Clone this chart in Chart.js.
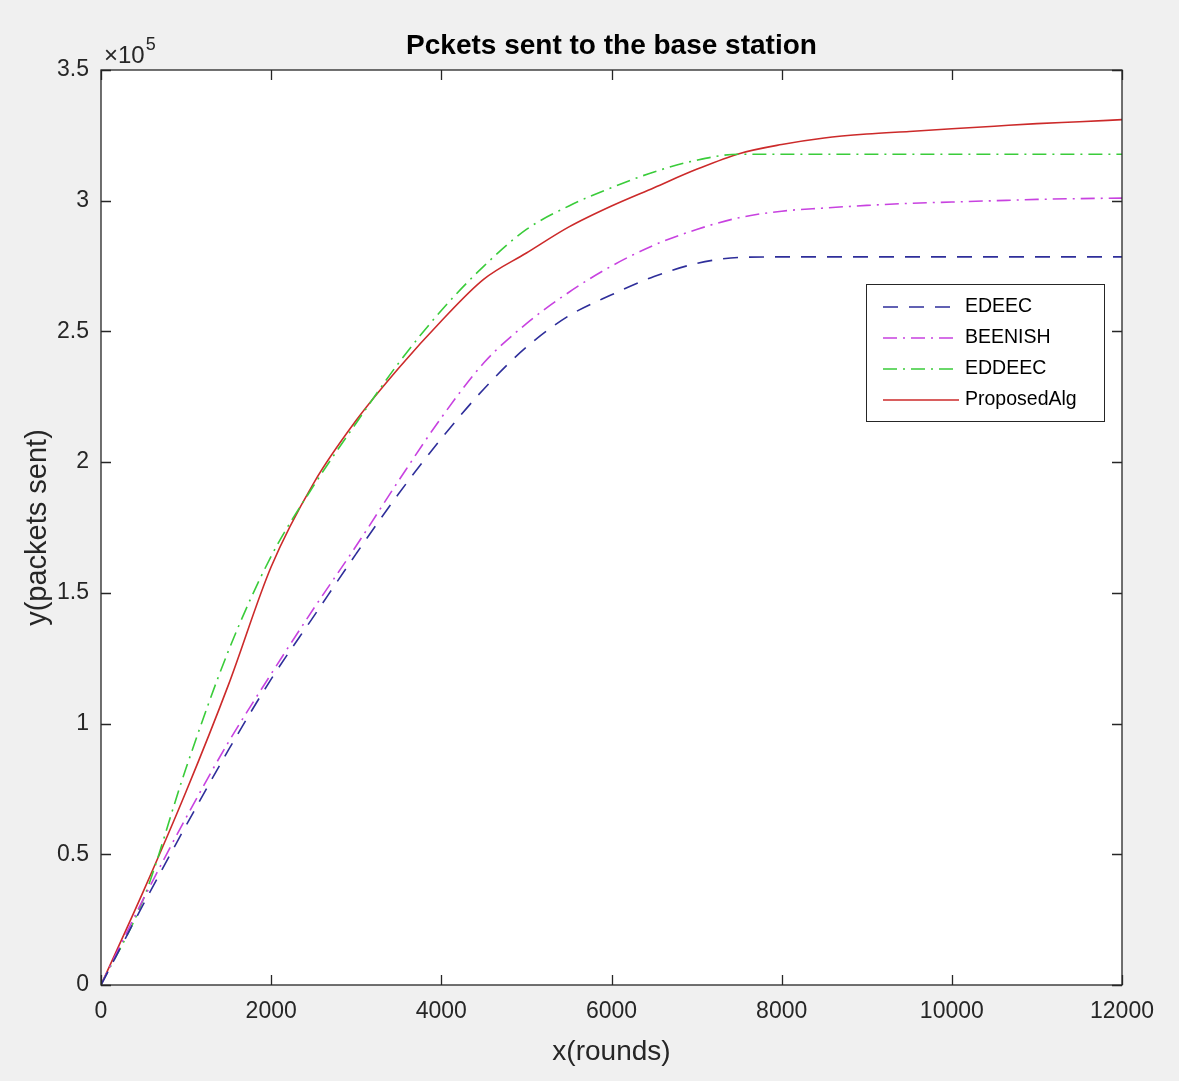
<!DOCTYPE html>
<html>
<head>
<meta charset="utf-8">
<title>Pckets sent to the base station</title>
<script src="https://cdn.jsdelivr.net/npm/chart.js@4.4.1/dist/chart.umd.min.js"></script>
<style>
    html, body { margin: 0; padding: 0; background: #f0f0f0; }
    #wrap { width: 1179px; height: 1081px; }
</style>
</head>
<body>
<div id="wrap"><canvas id="packets-chart" width="1179" height="1081"></canvas></div>
<script>
// x values (rounds) shared by every series
const rounds = [0, 500, 1000, 1500, 2000, 2500, 3000, 3500, 4000, 4500, 5000, 5500, 6000,
    6500, 7000, 7500, 8000, 8500, 9000, 9500, 10000, 10500, 11000, 11500, 12000];

// packets sent
const edeec = [0, 31000, 61000, 90000, 117000, 141000, 165000, 188000, 209000, 228000, 244000, 256000, 264000,
    271000, 276000, 278300, 278500, 278500, 278500, 278500, 278500, 278500, 278500, 278500, 278500];
const beenish = [0, 33000, 64000, 93000, 119000, 144000, 168000, 193000, 217000, 238000, 253000, 265000, 275000,
    283000, 289000, 293500, 296000, 297200, 298200, 299000, 299500, 300000, 300500, 300800, 301000];
const eddeec = [0, 33000, 83000, 128000, 164000, 191000, 215000, 238000, 258000, 275000, 289000, 298000, 305000,
    311000, 315500, 317800, 317800, 317800, 317800, 317800, 317800, 317800, 317800, 317800, 317800];
const proposed = [0, 36000, 74000, 115000, 160000, 192000, 216000, 236000, 254000, 270000, 280000, 290000, 298000,
    305000, 312000, 318000, 321500, 324000, 325500, 326500, 327500, 328500, 329500, 330200, 331000];

const xTicks = [0, 2000, 4000, 6000, 8000, 10000, 12000];
const yTicks = [0, 0.5, 1, 1.5, 2, 2.5, 3, 3.5]; // in units of 1e5

const FONT = '"Liberation Sans", Arial, sans-serif';
const AXIS_COLOR = '#262626';

function points(values) {
    return rounds.map((r, i) => ({ x: r, y: values[i] }));
}

function series(label, values, color, dash) {
    return {
        label: label,
        data: points(values),
        borderColor: color,
        borderDash: dash,
        borderWidth: 1.6,
        pointRadius: 0,
        fill: false,
        cubicInterpolationMode: 'monotone'
    };
}

// matlab-like box, inward ticks, title, exponent label and legend
const framePlugin = {
    id: 'frame',
    beforeDraw(chart) {
        const ctx = chart.ctx;
        const a = chart.chartArea;
        ctx.save();
        ctx.fillStyle = '#f0f0f0';
        ctx.fillRect(0, 0, chart.width, chart.height);
        ctx.fillStyle = '#ffffff';
        ctx.fillRect(a.left, a.top, a.right - a.left, a.bottom - a.top);
        ctx.restore();
    },
    afterDraw(chart) {
        const ctx = chart.ctx;
        const a = chart.chartArea;
        const xs = chart.scales.x;
        const ys = chart.scales.y;
        const tick = 10;
        ctx.save();
        ctx.strokeStyle = AXIS_COLOR;
        ctx.lineWidth = 1.3;
        ctx.strokeRect(a.left, a.top, a.right - a.left, a.bottom - a.top);
        ctx.beginPath();
        xTicks.forEach(v => {
            const px = Math.round(xs.getPixelForValue(v)) + 0.5;
            ctx.moveTo(px, a.bottom); ctx.lineTo(px, a.bottom - tick);
            ctx.moveTo(px, a.top); ctx.lineTo(px, a.top + tick);
        });
        yTicks.forEach(v => {
            const py = Math.round(ys.getPixelForValue(v * 1e5)) + 0.5;
            ctx.moveTo(a.left, py); ctx.lineTo(a.left + tick, py);
            ctx.moveTo(a.right, py); ctx.lineTo(a.right - tick, py);
        });
        ctx.stroke();

        // title
        ctx.fillStyle = '#000000';
        ctx.textAlign = 'center';
        ctx.textBaseline = 'middle';
        ctx.font = 'bold 28px ' + FONT;
        ctx.fillText('Pckets sent to the base station', (a.left + a.right) / 2, a.top - 24);

        // x10^5 exponent
        ctx.fillStyle = AXIS_COLOR;
        ctx.textBaseline = 'alphabetic';
        ctx.textAlign = 'left';
        ctx.font = '24px ' + FONT;
        ctx.fillText('\u00d710', a.left + 3, a.top - 7);
        const w = ctx.measureText('\u00d710').width;
        ctx.font = '18px ' + FONT;
        ctx.fillText('5', a.left + 4 + w, a.top - 20);

        // legend
        const box = { left: a.right - 256, top: a.top + 214, width: 238, height: 137 };
        ctx.fillStyle = '#ffffff';
        ctx.fillRect(box.left, box.top, box.width, box.height);
        ctx.lineWidth = 1;
        ctx.strokeStyle = AXIS_COLOR;
        ctx.strokeRect(box.left + 0.5, box.top + 0.5, box.width, box.height);
        ctx.font = '19.5px ' + FONT;
        ctx.textBaseline = 'middle';
        chart.data.datasets.forEach((ds, i) => {
            const y = box.top + 23 + i * 31;
            ctx.beginPath();
            ctx.strokeStyle = ds.borderColor;
            ctx.lineWidth = ds.borderWidth;
            ctx.setLineDash(ds.borderDash || []);
            ctx.moveTo(box.left + 17, y);
            ctx.lineTo(box.left + 93, y);
            ctx.stroke();
            ctx.setLineDash([]);
            ctx.fillStyle = '#000000';
            ctx.fillText(ds.label, box.left + 99, y);
        });
        ctx.restore();
    }
};

const ctx = document.getElementById('packets-chart').getContext('2d');
window.packetsChart = new Chart(ctx, {
    type: 'line',
    data: {
        datasets: [
            series('EDEEC', edeec, '#2e2e9a', [15, 11]),
            series('BEENISH', beenish, '#c842e0', [14, 6, 2, 6]),
            series('EDDEEC', eddeec, '#3acc3a', [14, 6, 2, 6]),
            series('ProposedAlg', proposed, '#cc2a2a', [])
        ]
    },
    options: {
        responsive: false,
        animation: false,
        devicePixelRatio: 1,
        layout: { padding: { left: 0, right: 57, top: 70, bottom: 0 } },
        plugins: {
            legend: { display: false },
            tooltip: { enabled: false },
            title: { display: false }
        },
        scales: {
            x: {
                type: 'linear',
                min: 0,
                max: 12000,
                afterBuildTicks: s => { s.ticks = xTicks.map(v => ({ value: v })); },
                ticks: {
                    callback: v => String(v),
                    color: AXIS_COLOR,
                    font: { family: FONT, size: 23 },
                    padding: 13,
                    maxRotation: 0
                },
                grid: { display: false, drawTicks: false },
                border: { display: false },
                title: {
                    display: true,
                    text: 'x(rounds)',
                    color: AXIS_COLOR,
                    font: { family: FONT, size: 28 },
                    padding: { top: 12, bottom: 12 }
                },
                afterFit: s => { s.height = 96; }
            },
            y: {
                type: 'linear',
                min: 0,
                max: 350000,
                afterBuildTicks: s => { s.ticks = yTicks.map(v => ({ value: v * 1e5 })); },
                ticks: {
                    callback: v => String(v / 1e5),
                    color: AXIS_COLOR,
                    font: { family: FONT, size: 23 },
                    padding: 12
                },
                grid: { display: false, drawTicks: false },
                border: { display: false },
                title: {
                    display: true,
                    text: 'y(packets sent)',
                    color: AXIS_COLOR,
                    font: { family: FONT, size: 29 },
                    padding: { top: 21, bottom: 21 }
                },
                afterFit: s => { s.width = 101; }
            }
        }
    },
    plugins: [framePlugin]
});
</script>
</body>
</html>
